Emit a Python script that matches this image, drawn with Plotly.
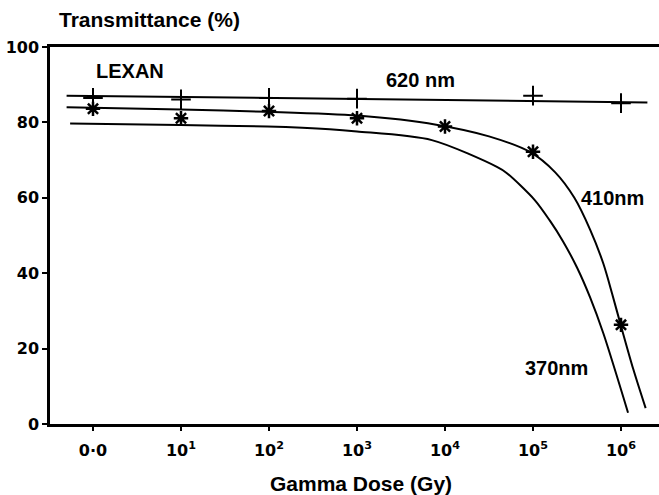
import plotly.graph_objects as go

# ---- data ----
tick_pos = [0, 1, 2, 3, 4, 5, 6]
tick_labels = ["0·0", "10<sup>1</sup>", "10<sup>2</sup>", "10<sup>3</sup>",
               "10<sup>4</sup>", "10<sup>5</sup>", "10<sup>6</sup>"]
y_ticks = [0, 20, 40, 60, 80, 100]

# 620 nm fitted line and measured points (+)
line620_x = [-0.30, 3.0, 6.30]
line620_y = [87.1, 86.3, 85.3]
pts620_x = [0, 1, 2, 3, 5, 6]
pts620_y = [86.5, 86.1, 86.5, 86.3, 87.1, 85.1]

# 410 nm fitted curve and measured points (*)
curve410_x = [-0.30, 1.0, 2.0, 3.0, 3.9, 4.5, 4.97, 5.25, 5.47, 5.65, 5.80, 5.90, 6.00, 6.14, 6.28]
curve410_y = [84.0, 83.4, 82.8, 81.8, 79.4, 76.3, 72.1, 66.8, 60.0, 51.5, 42.5, 34.5, 26.0, 14.5, 4.2]
pts410_x = [0, 1, 2, 3, 4, 5, 6]
pts410_y = [83.6, 81.1, 83.0, 81.1, 78.9, 72.2, 26.3]

# 370 nm fitted curve
curve370_x = [-0.26, 0.99, 1.98, 2.69, 3.0, 3.85, 4.59, 4.70, 5.02, 5.19, 5.34, 5.50, 5.65, 5.80, 6.08]
curve370_y = [79.7, 79.3, 78.9, 78.2, 77.6, 75.3, 68.2, 66.6, 59.4, 54.0, 48.5, 41.5, 33.5, 24.0, 3.0]

# ---- figure ----
W, H = 659, 495
ml, mr, mt, mb = 50, 0, 47, 71
x0_px, dx_px = 93, 88
x_range = [(ml - x0_px) / dx_px, (W - mr - x0_px) / dx_px]

fig = go.Figure()
fig.add_trace(go.Scatter(x=line620_x, y=line620_y, mode="lines",
                         line=dict(color="black", width=2), showlegend=False))
fig.add_trace(go.Scatter(x=curve410_x, y=curve410_y, mode="lines",
                         line=dict(color="black", width=2, shape="spline", smoothing=0.8), showlegend=False))
fig.add_trace(go.Scatter(x=curve370_x, y=curve370_y, mode="lines",
                         line=dict(color="black", width=2, shape="spline", smoothing=0.8), showlegend=False))
fig.add_trace(go.Scatter(x=pts620_x, y=pts620_y, mode="markers",
                         marker=dict(symbol="cross-thin-open", size=14, color="black",
                                     line=dict(color="black", width=2)),
                         showlegend=False))
fig.add_trace(go.Scatter(x=pts410_x, y=pts410_y, mode="markers",
                         marker=dict(symbol="asterisk-open", size=12, color="black",
                                     line=dict(color="black", width=2.5)),
                         showlegend=False))

lab_font = dict(family="Liberation Sans", size=20, color="black")
big_font = dict(family="Liberation Sans", size=21, color="black")
pw = W - ml - mr
ph = H - mt - mb

def px_to_paper(px, py):
    return (px - ml) / pw, (H - mb - py) / ph

annots = [
    ("<b>LEXAN</b>", 130, 71, lab_font),
    ("<b>620 nm</b>", 420, 80, lab_font),
    ("<b>410nm</b>", 612, 198, lab_font),
    ("<b>370nm</b>", 556, 368, lab_font),
    ("<b>Transmittance (%)</b>", 149, 20, big_font),
    ("<b>Gamma Dose (Gy)</b>", 361, 483, big_font),
]
for txt, px, py, f in annots:
    ax, ay = px_to_paper(px, py)
    fig.add_annotation(text=txt, x=ax, y=ay, xref="paper", yref="paper",
                       showarrow=False, font=f, xanchor="center", yanchor="middle")

tick_font = dict(family="DejaVu Sans", size=16, color="black")
fig.update_xaxes(range=x_range, tickmode="array", tickvals=tick_pos,
                 ticktext=["<b>%s</b>" % t for t in tick_labels],
                 showline=True, linecolor="black", linewidth=2.5, mirror=True,
                 ticks="outside", ticklen=4, tickwidth=2, tickcolor="black",
                 ticklabelstandoff=6,
                 showgrid=False, zeroline=False, tickfont=tick_font)
fig.update_yaxes(range=[0, 100], tickmode="array", tickvals=y_ticks,
                 ticktext=["<b>%d</b>" % v for v in y_ticks],
                 showline=True, linecolor="black", linewidth=2.5,
                 ticks="outside", ticklen=5, tickwidth=2, tickcolor="black",
                 showgrid=False, zeroline=False, tickfont=tick_font)
fig.update_layout(width=W, height=H, margin=dict(l=ml, r=mr, t=mt, b=mb),
                  plot_bgcolor="white", paper_bgcolor="white")

fig.write_html("out.html")
